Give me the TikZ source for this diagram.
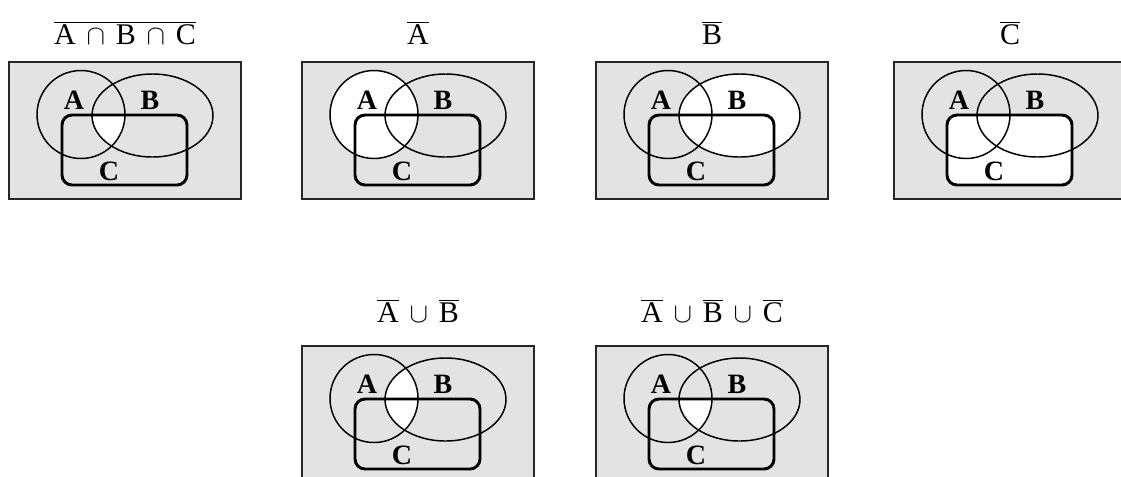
\documentclass[tikz,border=0pt]{standalone}
\usepackage{fontspec}
\setmainfont{Liberation Serif}
\usepackage{tikz}
\definecolor{venngray}{HTML}{E3E3E3}
\definecolor{boxgray}{HTML}{262626}

\tikzset{
  boxline/.style={draw=boxgray,line width=1.5pt},
  setline/.style={draw=black,line width=1.1pt},
  cline/.style={draw=black,line width=2.2pt,rounded corners=7.5pt},
  setlabel/.style={font=\bfseries\fontsize{21}{25}\selectfont,inner sep=0pt},
  paneltitle/.style={font=\fontsize{22.5}{27}\selectfont,anchor=base,inner sep=0pt}
}
% the three sets, in panel coordinates
\newcommand\pathA{(81,114.5) circle[radius=44]}
\newcommand\pathB{(152.5,115.5) ellipse[x radius=60.5,y radius=41.5]}
\newcommand\pathC{[rounded corners=7.5pt] (62,115) rectangle (187,185)}
% white regions
\newcommand\holeA{\fill[white] \pathA;}
\newcommand\holeB{\fill[white] \pathB;}
\newcommand\holeC{\fill[white] \pathC;}
\newcommand\holeAB{\begin{scope}\clip \pathA; \fill[white] \pathB;\end{scope}}
\newcommand\holeABC{\begin{scope}\clip \pathA; \clip \pathB; \fill[white] \pathC;\end{scope}}

\begin{document}
\begin{tikzpicture}[x=0.75pt,y=-0.75pt]
\useasboundingbox (0,0) rectangle (1121,476);
\clip (0,0) rectangle (1121,476);
\foreach \px/\py/\ty/\name/\lab/\hole in {
  0/0/44/p1/{$\overline{\mbox{A}\,\cap\,\mbox{B}\,\cap\,\mbox{C}}$}/\holeABC,
  293/0/44/p2/{$\overline{\mbox{A}}$}/\holeA,
  587/0/44/p3/{$\overline{\mbox{B}}$}/\holeB,
  885/0/44/p4/{$\overline{\mbox{C}}$}/\holeC,
  293/284/38/p5/{$\overline{\mbox{A}}\,\cup\,\overline{\mbox{B}}$}/\holeAB,
  587/284/38/p6/{$\overline{\mbox{A}}\,\cup\,\overline{\mbox{B}}\,\cup\,\overline{\mbox{C}}$}/\holeABC} {
  \begin{scope}[shift={(\px,\py)}]
    \fill[venngray] (9,62) rectangle (241,199);
    \hole
    \draw[boxline] (9,62) rectangle (241,199);
    \draw[setline] \pathA;
    \draw[setline] \pathB;
    \draw[cline] (62,115) rectangle (187,185);
    \node[setlabel] (\name-a) at (74,100) {A};
    \node[setlabel] (\name-b) at (150,100) {B};
    \node[setlabel] (\name-c) at (109,171) {C};
    \node[paneltitle] (\name-t) at (125,\ty) {\lab};
  \end{scope}
}
\end{tikzpicture}
\end{document}
